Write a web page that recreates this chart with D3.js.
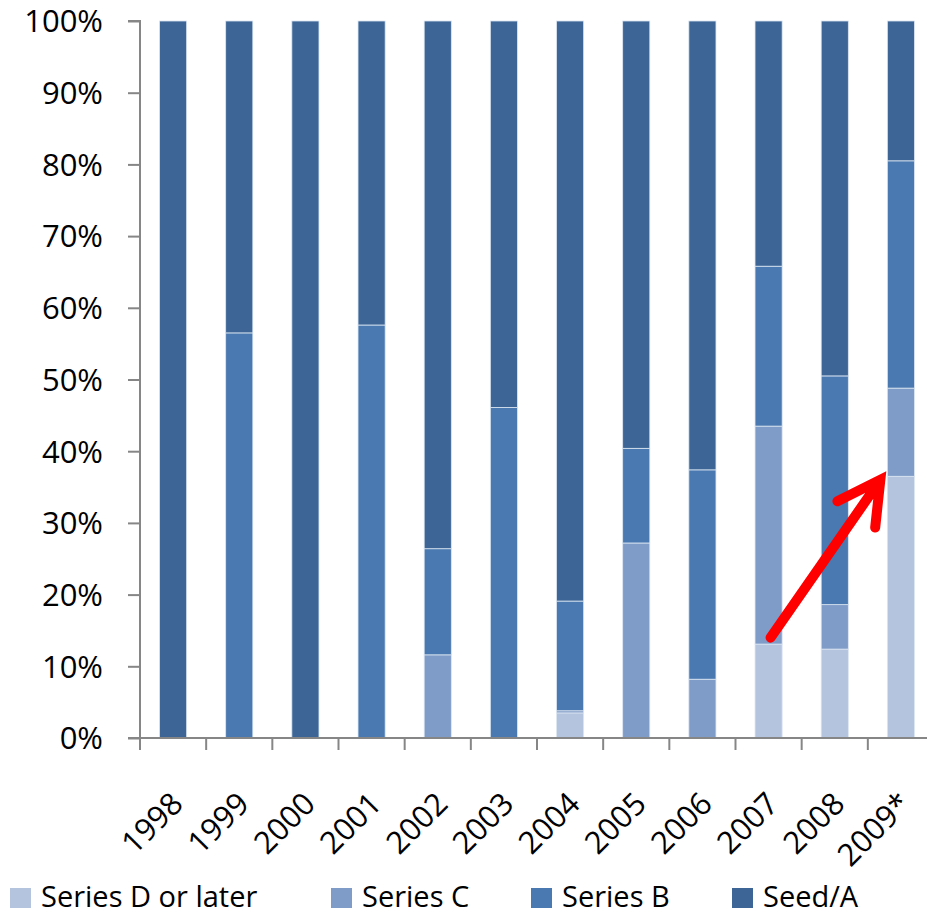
<!DOCTYPE html>
<html>
<head>
<meta charset="utf-8">
<script src="https://cdn.jsdelivr.net/npm/d3@7"></script>
<style>
  body { margin: 0; background: #fff; }
  text { font-family: "Open Sans", "DejaVu Sans", sans-serif; fill: #000; }
</style>
</head>
<body>
<script>
// categories and stacked shares (fractions of 1)
var years = ["1998", "1999", "2000", "2001", "2002", "2003", "2004", "2005", "2006", "2007", "2008", "2009*"];
var seriesNames = ["Series D or later", "Series C", "Series B", "Seed/A"];
var seriesD = [0, 0, 0, 0, 0, 0, 0.035, 0, 0, 0.131, 0.124, 0.365];
var seriesC = [0, 0, 0, 0, 0.116, 0, 0.003, 0.272, 0.082, 0.304, 0.062, 0.123];
var seriesB = [0, 0.565, 0, 0.576, 0.148, 0.461, 0.153, 0.132, 0.292, 0.223, 0.319, 0.317];
var seedA   = [1, 0.435, 1, 0.424, 0.736, 0.539, 0.809, 0.596, 0.626, 0.342, 0.495, 0.195];
var yTicks = [0, 0.1, 0.2, 0.3, 0.4, 0.5, 0.6, 0.7, 0.8, 0.9, 1];
var colors = ["#b4c4df", "#7f9cc8", "#4a78b0", "#3d6696"];

var w = 927, h = 917;
var plotL = 140, plotR = 934, plotT = 21, plotB = 738;
var fontSize = "31px";

var svg = d3.select("body").append("svg")
  .attr("width", w)
  .attr("height", h);

// build rows for the stack
var rows = years.map(function(d, i) {
  return { year: d, "Series D or later": seriesD[i], "Series C": seriesC[i], "Series B": seriesB[i], "Seed/A": seedA[i] };
});
var stacked = d3.stack().keys(seriesNames)(rows);

var x = d3.scaleBand().domain(years).range([plotL, plotR]).paddingInner(0.59).paddingOuter(0.295);
var y = d3.scaleLinear().domain([0, 1]).range([plotB, plotT]);

// bars
svg.selectAll("g.layer")
  .data(stacked)
  .enter()
  .append("g")
  .attr("class", "layer")
  .attr("fill", function(d, i) { return colors[i]; })
  .selectAll("rect")
  .data(function(d) { return d.filter(function(s) { return s[1] - s[0] > 0; }); })
  .enter()
  .append("rect")
  .attr("x", function(d) { return x(d.data.year); })
  .attr("width", x.bandwidth())
  .attr("y", function(d) { return y(d[1]); })
  .attr("height", function(d) { return y(d[0]) - y(d[1]); })
  .attr("stroke", "#dce6f2")
  .attr("stroke-width", 0.8);

// y axis
var yAxis = svg.append("g")
  .attr("transform", "translate(" + plotL + ",0)")
  .call(d3.axisLeft(y).tickValues(yTicks).tickSize(12).tickPadding(25).tickFormat(d3.format(".0%")));
yAxis.selectAll("text").style("font-size", fontSize).attr("dy", "0.35em");
yAxis.selectAll("path, line").attr("stroke", "#868686").attr("stroke-width", 2);
yAxis.select("path").attr("d", "M-12," + plotT + "H0V" + plotB + "H-12");

// x axis, ticks between categories
var step = x.step();
var gap = (step - x.bandwidth()) / 2;
var xAxis = svg.append("g")
  .attr("transform", "translate(0," + plotB + ")");
xAxis.append("line")
  .attr("x1", plotL).attr("x2", plotR)
  .attr("stroke", "#868686").attr("stroke-width", 2);
xAxis.selectAll("line.tick")
  .data(years)
  .enter()
  .append("line")
  .attr("class", "tick")
  .attr("x1", function(d) { return x(d) - gap; })
  .attr("x2", function(d) { return x(d) - gap; })
  .attr("y1", 0).attr("y2", 12)
  .attr("stroke", "#868686").attr("stroke-width", 2);
xAxis.selectAll("text")
  .data(years)
  .enter()
  .append("text")
  .attr("text-anchor", "end")
  .style("font-size", fontSize)
  .attr("transform", function(d) {
    return "translate(" + (x(d) + x.bandwidth() / 2 + 4) + ",60) rotate(-45)";
  })
  .attr("dy", "0.35em")
  .text(function(d) { return d; });

// red arrow annotation
var ax0 = x("2007") + x.bandwidth() / 2 + 2, ay0 = y(0.14);
var ax1 = x("2009*") - 7, ay1 = y(0.36);
var ang = Math.atan2(ay1 - ay0, ax1 - ax0);
var headLen = 48, headAng = 0.5;
svg.append("path")
  .attr("d", "M" + ax0 + "," + ay0 + "L" + ax1 + "," + ay1 +
    "M" + (ax1 - headLen * Math.cos(ang - headAng)) + "," + (ay1 - headLen * Math.sin(ang - headAng)) +
    "L" + ax1 + "," + ay1 +
    "L" + (ax1 - headLen * Math.cos(ang + headAng)) + "," + (ay1 - headLen * Math.sin(ang + headAng)))
  .attr("fill", "none")
  .attr("stroke", "#ff0000")
  .attr("stroke-width", 10)
  .attr("stroke-linecap", "round")
  .attr("stroke-linejoin", "miter");

// legend
var legendX = [10, 331, 531, 732];
var legend = svg.selectAll("g.legend")
  .data(seriesNames)
  .enter()
  .append("g")
  .attr("class", "legend")
  .attr("transform", function(d, i) { return "translate(" + legendX[i] + ",888)"; });
legend.append("rect")
  .attr("width", 21).attr("height", 20)
  .attr("fill", function(d, i) { return colors[i]; });
legend.append("text")
  .attr("x", 31).attr("y", 9)
  .attr("dy", "0.35em")
  .style("font-size", "29px")
  .text(function(d) { return d; });
</script>
</body>
</html>
